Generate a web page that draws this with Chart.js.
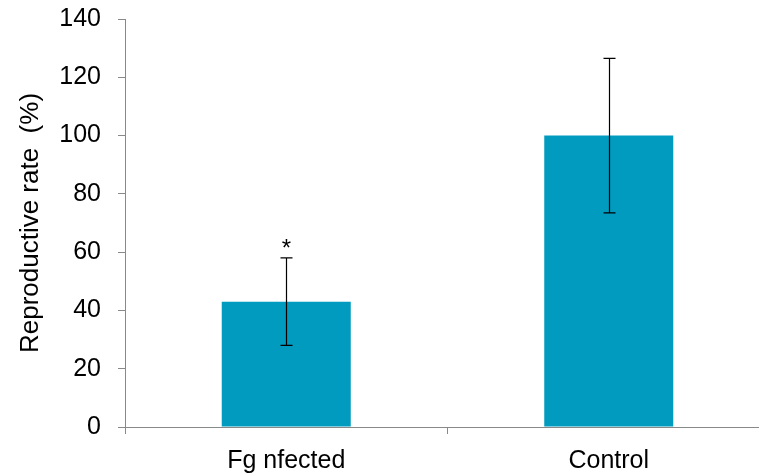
<!DOCTYPE html>
<html lang="en">
<head>
    <meta charset="UTF-8">
    <title>Reproductive rate</title>
    <style>
        body {
            margin: 0;
            padding: 0;
            background: #fff;
            overflow: hidden;
        }
        .wrap {
            width: 770px;
            height: 475px;
        }
    </style>
</head>
<body>
    <div class="wrap">
        <canvas id="rateChart" width="770" height="475"></canvas>
    </div>

    <script src="https://cdn.jsdelivr.net/npm/chart.js"></script>
    <script>
        // data
        const categories = ['Fg nfected', 'Control'];
        const rates = [43, 100];
        const errors = [15, 26.5];
        const marks = ['*', ''];
        const yTicks = [0, 20, 40, 60, 80, 100, 120, 140];

        const font = { family: 'Liberation Sans, Arial, sans-serif', size: 25 };

        // draws the error bars and the significance star
        const errorBarPlugin = {
            id: 'errorBars',
            afterDatasetsDraw(chart) {
                const ctx = chart.ctx;
                const x = chart.scales.x;
                const y = chart.scales.y;
                ctx.save();
                ctx.strokeStyle = '#000';
                ctx.lineWidth = 1.2;
                rates.forEach((v, i) => {
                    const cx = Math.round(x.getPixelForValue(i)) + 0.5;
                    const top = y.getPixelForValue(v + errors[i]);
                    const bot = y.getPixelForValue(v - errors[i]);
                    ctx.beginPath();
                    ctx.moveTo(cx, top);
                    ctx.lineTo(cx, bot);
                    ctx.moveTo(cx - 6, top);
                    ctx.lineTo(cx + 6, top);
                    ctx.moveTo(cx - 6, bot);
                    ctx.lineTo(cx + 6, bot);
                    ctx.stroke();
                    if (marks[i]) {
                        ctx.fillStyle = '#000';
                        ctx.font = '24px Liberation Sans, Arial, sans-serif';
                        ctx.textAlign = 'center';
                        ctx.textBaseline = 'bottom';
                        ctx.fillText(marks[i], cx, top + 3);
                    }
                });
                ctx.restore();
            }
        };

        const ctx = document.getElementById('rateChart').getContext('2d');
        new Chart(ctx, {
            type: 'bar',
            data: {
                labels: categories,
                datasets: [{
                    data: rates,
                    backgroundColor: '#009bbe',
                    borderWidth: 0,
                    categoryPercentage: 0.8,
                    barPercentage: 0.5
                }]
            },
            options: {
                responsive: false,
                animation: false,
                layout: {
                    padding: { top: 19, left: 0, right: 0, bottom: 0 }
                },
                plugins: {
                    legend: { display: false },
                    tooltip: { enabled: false }
                },
                scales: {
                    x: {
                        offset: true,
                        grid: {
                            offset: true,
                            drawOnChartArea: false,
                            drawTicks: true,
                            tickLength: 7,
                            color: '#898989'
                        },
                        border: { color: '#898989', width: 1 },
                        ticks: {
                            color: '#000',
                            font: font,
                            padding: 12
                        },
                        afterFit(scale) {
                            scale.height = 48;
                            scale.paddingLeft = 0;
                            scale.paddingRight = 0;
                        }
                    },
                    y: {
                        min: 0,
                        max: 140,
                        afterBuildTicks(scale) {
                            scale.ticks = yTicks.map(v => ({ value: v }));
                        },
                        grid: {
                            drawOnChartArea: false,
                            drawTicks: true,
                            tickLength: 7,
                            color: '#898989'
                        },
                        border: { color: '#898989', width: 1 },
                        ticks: {
                            color: '#000',
                            font: font,
                            padding: 17
                        },
                        title: {
                            display: true,
                            text: 'Reproductive rate  (%)',
                            color: '#000',
                            font: { family: font.family, size: 26 },
                            padding: { top: 15, bottom: 0 }
                        },
                        afterFit(scale) {
                            scale.width = 125;
                            scale.paddingTop = 0;
                            scale.paddingBottom = 0;
                        }
                    }
                }
            },
            plugins: [errorBarPlugin]
        });
    </script>
</body>
</html>
